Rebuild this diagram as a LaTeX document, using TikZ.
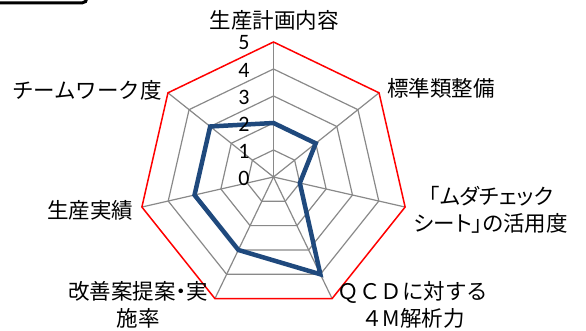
\documentclass[tikz,border=0pt]{standalone}
\usepackage{fontspec}
\setmainfont{Carlito}
\newfontfamily\jp{Noto Sans CJK JP}
\newfontfamily\jpp[RawFeature=+palt]{Noto Sans CJK JP}
\definecolor{seriesblue}{HTML}{1F497D}
\definecolor{gridgray}{HTML}{898989}
\begin{document}
\begin{tikzpicture}[x=1pt,y=1pt,
    gridline/.style={gridgray,line width=1.2pt},
    axislabel/.style={font=\jp\fontsize{21.5}{27}\selectfont,align=center,inner sep=0pt},
    ticklabel/.style={font=\fontsize{22}{22}\selectfont,inner sep=0pt}]
  \useasboundingbox (0,0) rectangle (586,331) ;
  \draw[line width=3pt,rounded corners=5pt] (-3,328)--(87,328)--(87,340) ;
  \begin{scope}[shift={(273.5,154)}]
    % rings 1..4 and spokes
    \foreach \r in {1,...,4}
      \draw[gridline] (90:27*\r) \foreach \k in {1,...,6} {-- ({90-\k*360/7}:27*\r)} -- cycle ;
    \foreach \k in {0,...,6}
      \draw[gridline] (0,0)--({90-\k*360/7}:135) ;
    \draw[red,line width=1.5pt] (90:135) \foreach \k in {1,...,6} {-- ({90-\k*360/7}:135)} -- cycle ;
    % values
    \draw[seriesblue,line width=4.5pt] (90:54) -- ({90-360/7}:54) -- ({90-2*360/7}:27)
      -- ({90-3*360/7}:108) -- ({90-4*360/7}:81) -- ({90-5*360/7}:81)
      -- ({90-6*360/7}:81) -- cycle ;
    \foreach \r in {0,...,5}
      \node[ticklabel] (t\r) at (-29.5,27*\r-1) {\r} ;
  \end{scope}
  \node[axislabel] (plan) at (274,311) {生産計画内容} ;
  \node[axislabel] (std) at (441,243) {標準類整備} ;
  \node[axislabel,font=\jpp\fontsize{21.5}{27}\selectfont] (muda) at (491,121) {「ムダチェック\\シート」の活用度} ;
  \node[axislabel] (qcd) at (413,26.5) {ＱＣＤに対する\\４M解析力} ;
  \node[axislabel,font=\jpp\fontsize{21.5}{27}\selectfont] (kaizen) at (138,26.5) {改善案提案・実\\施率} ;
  \node[axislabel] (result) at (90,121) {生産実績} ;
  \node[axislabel] (team) at (87,241) {チームワーク度} ;
\end{tikzpicture}
\end{document}
